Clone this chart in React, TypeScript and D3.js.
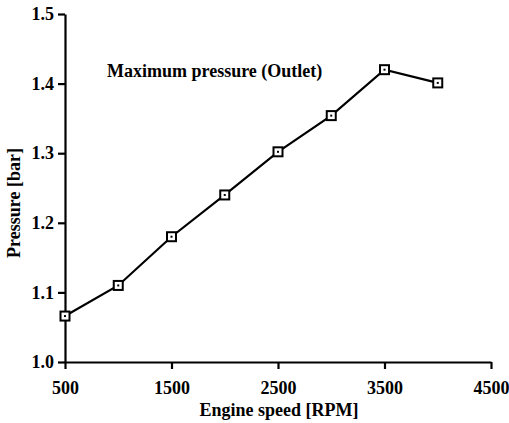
import { useRef, useEffect } from 'react';
import * as d3 from 'd3';

const rpm = [500, 1000, 1500, 2000, 2500, 3000, 3500, 4000];
const pressure = [1.066, 1.11, 1.18, 1.24, 1.302, 1.354, 1.42, 1.401];
const xTicks = [500, 1500, 2500, 3500, 4500];
const yTicks = [1.0, 1.1, 1.2, 1.3, 1.4, 1.5];

const FONT = '"Liberation Serif", "Times New Roman", serif';

export default function App() {
  const svgRef = useRef<SVGSVGElement>(null);

  useEffect(() => {
    if (!svgRef.current) return;
    const width = 509;
    const height = 423;
    const margin = { top: 14, right: 18, bottom: 61, left: 65 };

    const svg = d3.select(svgRef.current);
    svg.selectAll('*').remove();
    svg.attr('width', width).attr('height', height);

    const x = d3.scaleLinear()
      .domain([500, 4500])
      .range([margin.left, width - margin.right]);

    const y = d3.scaleLinear()
      .domain([1.0, 1.5])
      .range([height - margin.bottom, margin.top]);

    // X axis
    const xAxis = svg.append('g')
      .attr('transform', `translate(0,${height - margin.bottom})`)
      .call(d3.axisBottom(x).tickValues(xTicks).tickSize(7).tickSizeOuter(0).tickPadding(12).tickFormat(d3.format('d')));

    // Y axis
    const yAxis = svg.append('g')
      .attr('transform', `translate(${margin.left},0)`)
      .call(d3.axisLeft(y).tickValues(yTicks).tickSize(7).tickSizeOuter(0).tickPadding(4).tickFormat(d3.format('.1f')));

    [xAxis, yAxis].forEach(g => {
      g.attr('font-family', FONT).attr('font-size', 18).attr('font-weight', 'bold');
      g.select('.domain').attr('stroke', '#000').attr('stroke-width', 2.2);
      g.selectAll('.tick line').attr('stroke', '#000').attr('stroke-width', 2.2);
      g.selectAll('.tick text')
        .attr('fill', '#000')
        .style('font-family', FONT)
        .style('font-weight', 'bold')
        .style('font-size', '18px');
    });

    // Line
    const line = d3.line<number>()
      .x((_, i) => x(rpm[i]))
      .y(d => y(d));

    svg.append('path')
      .datum(pressure)
      .attr('fill', 'none')
      .attr('stroke', '#000')
      .attr('stroke-width', 2.2)
      .attr('d', line);

    // Square markers
    svg.selectAll('rect.marker')
      .data(pressure)
      .join('rect')
      .attr('class', 'marker')
      .attr('x', (_, i) => x(rpm[i]) - 4.5)
      .attr('y', d => y(d) - 4.5)
      .attr('width', 9)
      .attr('height', 9)
      .attr('fill', '#fff')
      .attr('stroke', '#000')
      .attr('stroke-width', 2);

    svg.selectAll('rect.dot')
      .data(pressure)
      .join('rect')
      .attr('class', 'dot')
      .attr('x', (_, i) => x(rpm[i]) - 1)
      .attr('y', d => y(d) - 1)
      .attr('width', 2)
      .attr('height', 2)
      .attr('fill', '#000');

    const label = (sel: d3.Selection<SVGTextElement, unknown, null, undefined>) =>
      sel.style('font-family', FONT)
        .style('font-size', '18px')
        .style('font-weight', 'bold')
        .attr('fill', '#000');

    // Annotation
    svg.append('text')
      .attr('x', 107)
      .attr('y', 77)
      .call(label)
      .text('Maximum pressure (Outlet)');

    // Axis titles
    svg.append('text')
      .attr('x', 279)
      .attr('y', 416)
      .attr('text-anchor', 'middle')
      .call(label)
      .text('Engine speed [RPM]');

    svg.append('text')
      .attr('transform', `translate(20,203) rotate(-90)`)
      .attr('text-anchor', 'middle')
      .call(label)
      .text('Pressure [bar]');
  }, []);

  return (
    <div style={{ position: 'fixed', left: 0, top: 0 }}>
      <svg ref={svgRef} style={{ display: 'block', background: '#fff' }} />
    </div>
  );
}
